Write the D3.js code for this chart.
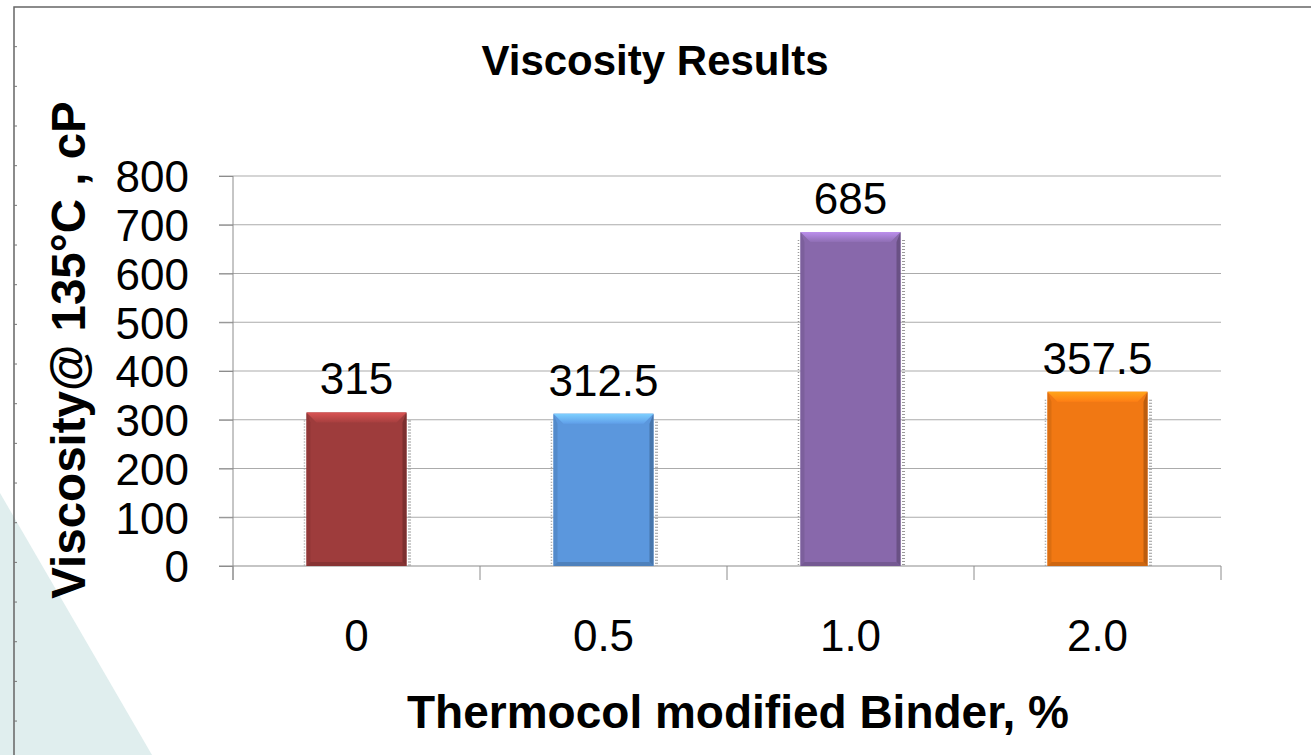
<!DOCTYPE html>
<html>
<head>
<meta charset="utf-8">
<script src="https://cdn.jsdelivr.net/npm/d3@7"></script>
<style>
  html, body { margin: 0; padding: 0; background: #fff; }
  svg { display: block; font-family: "Liberation Sans", Arial, sans-serif; }
</style>
</head>
<body>
<div id="chart"></div>
<script>
const categories = ["0", "0.5", "1.0", "2.0"];
const values = [315, 312.5, 685, 357.5];
const valueLabels = ["315", "312.5", "685", "357.5"];
const barColors = ["#9e3c3c", "#5b97dd", "#8868ab", "#f17813"];
const yTicks = [0, 100, 200, 300, 400, 500, 600, 700, 800];

const width = 1311,
  height = 755;
const margin = { left: 233, top: 176, right: 90, bottom: 189 };

const svg = d3
  .select("#chart")
  .append("svg")
  .attr("width", width)
  .attr("height", height)
  .attr("viewBox", [0, 0, width, height]);

const defs = svg.append("defs");

// slide background: pale teal wedge and frame
svg
  .append("path")
  .attr("d", "M0,493 L152,755 L0,755 Z")
  .attr("fill", "#e0eeee");

svg
  .append("path")
  .attr("d", `M14,${height} L14,7 L${width},7`)
  .attr("fill", "none")
  .attr("stroke", "#666")
  .attr("stroke-width", 1.5);

svg
  .append("g")
  .selectAll("line")
  .data(d3.range(7 + 39.67, height, 39.67))
  .join("line")
  .attr("x1", 14)
  .attr("x2", 17)
  .attr("y1", (d) => d)
  .attr("y2", (d) => d)
  .attr("stroke", "#777");

const x = d3
  .scaleBand()
  .domain(categories)
  .range([margin.left, width - margin.right])
  .paddingInner(0.595)
  .paddingOuter(0.2975);

const y = d3
  .scaleLinear()
  .domain([0, 800])
  .range([height - margin.bottom, margin.top]);

const x0 = margin.left,
  x1 = width - margin.right,
  y0 = y(0);

// gridlines
svg
  .append("g")
  .selectAll("line")
  .data(yTicks.slice(1))
  .join("line")
  .attr("x1", x0 - 14)
  .attr("x2", x1)
  .attr("y1", (d) => y(d))
  .attr("y2", (d) => y(d))
  .attr("stroke", "#ababab")
  .attr("stroke-width", 1.2);

// y axis
const yAxis = svg
  .append("g")
  .attr("transform", `translate(${x0},0)`)
  .call(d3.axisLeft(y).tickValues(yTicks).tickSize(14).tickPadding(30));
yAxis.select(".domain").attr("stroke", "#8c8c8c").attr("d", `M0,${y(800)}V${y0 + 14}`);
yAxis.selectAll(".tick line").attr("stroke", "#8c8c8c");
yAxis
  .selectAll(".tick text")
  .attr("fill", "#000")
  .attr("font-size", 44)
  .attr("dy", "0.36em");

// x axis with boundary ticks
const step = x.step();
const bounds = d3.range(categories.length + 1).map((i) => x0 + i * step);
svg
  .append("line")
  .attr("x1", x0 - 14)
  .attr("x2", x1)
  .attr("y1", y0)
  .attr("y2", y0)
  .attr("stroke", "#8c8c8c")
  .attr("stroke-width", 1.2);
svg
  .append("g")
  .selectAll("line")
  .data(bounds)
  .join("line")
  .attr("x1", (d) => d)
  .attr("x2", (d) => d)
  .attr("y1", y0)
  .attr("y2", y0 + 14)
  .attr("stroke", "#8c8c8c");

svg
  .append("g")
  .selectAll("text")
  .data(categories)
  .join("text")
  .attr("x", (d) => x(d) + x.bandwidth() / 2)
  .attr("y", 651)
  .attr("text-anchor", "middle")
  .attr("font-size", 44)
  .text((d) => d);

// bars with bevel
const bars = svg
  .append("g")
  .selectAll("g")
  .data(values.map((v, i) => ({ v, c: categories[i], color: barColors[i], label: valueLabels[i] })))
  .join("g");

bars.each(function (d, i) {
  const g = d3.select(this);
  const bx = x(d.c),
    bw = x.bandwidth(),
    by = y(d.v),
    bh = y0 - by;
  const c = d3.color(d.color);
  const bt = 10,
    bs = 4;

  const grad = defs
    .append("linearGradient")
    .attr("id", `top${i}`)
    .attr("x1", 0)
    .attr("y1", 0)
    .attr("x2", 0)
    .attr("y2", 1);
  grad.append("stop").attr("offset", 0).attr("stop-color", c.brighter(0.9));
  grad.append("stop").attr("offset", 1).attr("stop-color", c.brighter(0.15));

  // dotted shadow on both sides
  [bx - 2, bx + bw + 3].forEach((sx, k) => {
    g.append("line")
      .attr("x1", sx)
      .attr("x2", sx)
      .attr("y1", by + 8)
      .attr("y2", y0)
      .attr("stroke", "#9a9a9a")
      .attr("stroke-width", k ? 3 : 1.5)
      .attr("stroke-dasharray", "1,2");
  });

  g.append("rect")
    .attr("x", bx)
    .attr("y", by)
    .attr("width", bw)
    .attr("height", bh)
    .attr("fill", d.color);

  // top bevel
  g.append("path")
    .attr("d", `M${bx},${by} L${bx + bw},${by} L${bx + bw - bs - 6},${by + bt} L${bx + bs + 6},${by + bt} Z`)
    .attr("fill", `url(#top${i})`);
  // right bevel
  g.append("path")
    .attr("d", `M${bx + bw},${by} L${bx + bw},${y0} L${bx + bw - bs},${y0 - bs} L${bx + bw - bs},${by + bt} Z`)
    .attr("fill", c.darker(0.7));
  // left bevel
  g.append("path")
    .attr("d", `M${bx},${by} L${bx + bs},${by + bt} L${bx + bs},${y0 - bs} L${bx},${y0} Z`)
    .attr("fill", c.darker(0.25));
  // bottom bevel
  g.append("path")
    .attr("d", `M${bx},${y0} L${bx + bs},${y0 - bs} L${bx + bw - bs},${y0 - bs} L${bx + bw},${y0} Z`)
    .attr("fill", c.darker(0.45));

  g.append("text")
    .attr("x", bx + bw / 2)
    .attr("y", by - 18)
    .attr("text-anchor", "middle")
    .attr("font-size", 44)
    .text(d.label);
});

// titles
svg
  .append("text")
  .attr("x", 655)
  .attr("y", 75)
  .attr("text-anchor", "middle")
  .attr("font-size", 42)
  .attr("font-weight", "bold")
  .text("Viscosity Results");

svg
  .append("text")
  .attr("transform", "translate(85,350) rotate(-90)")
  .attr("text-anchor", "middle")
  .attr("font-size", 47.5)
  .attr("font-weight", "bold")
  .attr("xml:space", "preserve")
  .text("Viscosity@ 135°C , cP");

svg
  .append("text")
  .attr("x", 738)
  .attr("y", 728)
  .attr("text-anchor", "middle")
  .attr("font-size", 46)
  .attr("font-weight", "bold")
  .text("Thermocol modified Binder, %");
</script>
</body>
</html>
